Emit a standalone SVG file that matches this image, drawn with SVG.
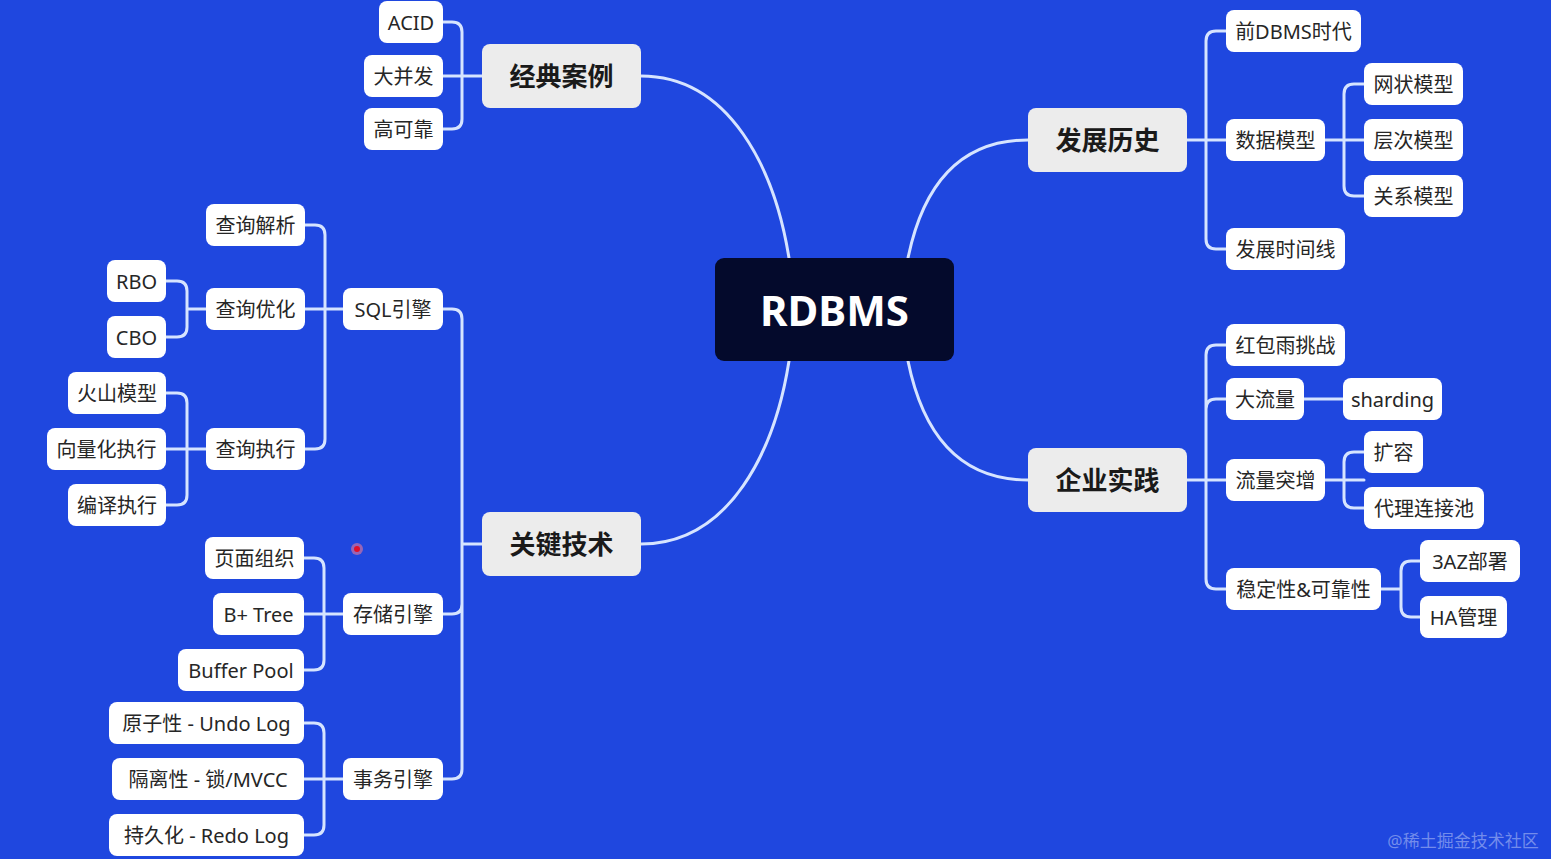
<svg xmlns="http://www.w3.org/2000/svg" width="1551" height="859" viewBox="0 0 1551 859">
<style>
.bg{fill:#1f47df}
.c{fill:none;stroke:#d6e4ff;stroke-width:3;stroke-linecap:round;stroke-linejoin:round}
.l1 rect{fill:#ececec}
.l2 rect{fill:#ffffff}
.root rect{fill:#040a2c}
text{font-family:"Noto Sans","Noto Sans CJK SC",sans-serif;text-anchor:middle;dominant-baseline:central}
.l1 text{font-size:26px;font-weight:bold;fill:#1a1a1a}
.l2 text{font-size:20px;fill:#262626}
.root text{font-size:42px;font-weight:bold;fill:#ffffff}
.wm{font-size:17px;fill:#8fa3f0;opacity:.75}
</style>
<rect class="bg" x="0" y="0" width="1551" height="859"/>
<g id="connectors">
<path class="c" d="M641,76 C730,76 775,170 789,258"/>
<path class="c" d="M1028,140 C950,140 920,200 908,258"/>
<path class="c" d="M641,544 C730,544 775,450 789,361"/>
<path class="c" d="M1028,480 C950,480 920,420 908,361"/>
<path class="c" d="M443,22 H452 Q462,22 462,32 V119 Q462,129 452,129 H443 M482,76 H443"/>
<path class="c" d="M443,309 H452 Q462,309 462,319 V769 Q462,779 452,779 H443 M482,544 H462 M462,604 Q462,614 452,614 H443"/>
<path class="c" d="M305,225 H315 Q325,225 325,235 V439 Q325,449 315,449 H305 M343,309 H305"/>
<path class="c" d="M166,281 H177 Q187,281 187,291 V327 Q187,337 177,337 H166 M206,309 H187"/>
<path class="c" d="M166,393 H177 Q187,393 187,403 V495 Q187,505 177,505 H166 M206,449 H166"/>
<path class="c" d="M304,558 H314 Q324,558 324,568 V660 Q324,670 314,670 H304 M343,614 H304"/>
<path class="c" d="M304,723 H314 Q324,723 324,733 V825 Q324,835 314,835 H304 M343,779 H304"/>
<path class="c" d="M1226,31 H1216 Q1206,31 1206,41 V239 Q1206,249 1216,249 H1226 M1187,140 H1226"/>
<path class="c" d="M1364,84 H1354 Q1344,84 1344,94 V186 Q1344,196 1354,196 H1364 M1325,140 H1364"/>
<path class="c" d="M1226,345 H1216 Q1206,345 1206,355 V579 Q1206,589 1216,589 H1226 M1187,480 H1226 M1206,409 Q1206,399 1216,399 H1226"/>
<path class="c" d="M1304,399 H1343"/>
<path class="c" d="M1364,452 H1354 Q1344,452 1344,462 V498 Q1344,508 1354,508 H1364 M1325,480 H1364"/>
<path class="c" d="M1420,561 H1411 Q1401,561 1401,571 V607 Q1401,617 1411,617 H1420 M1381,589 H1401"/>
</g>
<g id="n-root" class="root"><rect x="715" y="258" width="239" height="103" rx="9"/><text x="834.5" y="309.5">RDBMS</text></g>
<g id="n-jdal" class="l1"><rect x="482" y="44" width="159" height="64" rx="8"/><text x="561.5" y="76">经典案例</text></g>
<g id="n-gjjs" class="l1"><rect x="482" y="512" width="159" height="64" rx="8"/><text x="561.5" y="544">关键技术</text></g>
<g id="n-fzls" class="l1"><rect x="1028" y="108" width="159" height="64" rx="8"/><text x="1107.5" y="140">发展历史</text></g>
<g id="n-qysj" class="l1"><rect x="1028" y="448" width="159" height="64" rx="8"/><text x="1107.5" y="480">企业实践</text></g>
<g id="n-acid" class="l2"><rect x="379" y="1" width="64" height="42" rx="8"/><text x="411" y="22">ACID</text></g>
<g id="n-dbf" class="l2"><rect x="364" y="55" width="79" height="42" rx="8"/><text x="403.5" y="76">大并发</text></g>
<g id="n-gkk" class="l2"><rect x="364" y="108" width="79" height="42" rx="8"/><text x="403.5" y="129">高可靠</text></g>
<g id="n-sql" class="l2"><rect x="343" y="288" width="100" height="42" rx="8"/><text x="393" y="309">SQL引擎</text></g>
<g id="n-ccyq" class="l2"><rect x="343" y="593" width="100" height="42" rx="8"/><text x="393" y="614">存储引擎</text></g>
<g id="n-swyq" class="l2"><rect x="343" y="758" width="100" height="42" rx="8"/><text x="393" y="779">事务引擎</text></g>
<g id="n-cxjx" class="l2"><rect x="206" y="204" width="99" height="42" rx="8"/><text x="255.5" y="225">查询解析</text></g>
<g id="n-cxyh" class="l2"><rect x="206" y="288" width="99" height="42" rx="8"/><text x="255.5" y="309">查询优化</text></g>
<g id="n-cxzx" class="l2"><rect x="206" y="428" width="99" height="42" rx="8"/><text x="255.5" y="449">查询执行</text></g>
<g id="n-rbo" class="l2"><rect x="107" y="260" width="59" height="42" rx="8"/><text x="136.5" y="281">RBO</text></g>
<g id="n-cbo" class="l2"><rect x="107" y="316" width="59" height="42" rx="8"/><text x="136.5" y="337">CBO</text></g>
<g id="n-hsmx" class="l2"><rect x="68" y="372" width="98" height="42" rx="8"/><text x="117" y="393">火山模型</text></g>
<g id="n-xlh" class="l2"><rect x="47" y="428" width="119" height="42" rx="8"/><text x="106.5" y="449">向量化执行</text></g>
<g id="n-byzx" class="l2"><rect x="68" y="484" width="98" height="42" rx="8"/><text x="117" y="505">编译执行</text></g>
<g id="n-ymzz" class="l2"><rect x="205" y="537" width="99" height="42" rx="8"/><text x="254.5" y="558">页面组织</text></g>
<g id="n-bptree" class="l2"><rect x="213" y="593" width="91" height="42" rx="8"/><text x="258.5" y="614">B+ Tree</text></g>
<g id="n-bufpool" class="l2"><rect x="178" y="649" width="126" height="42" rx="8"/><text x="241" y="670">Buffer Pool</text></g>
<g id="n-undo" class="l2"><rect x="109" y="702" width="195" height="42" rx="8"/><text x="206.5" y="723">原子性 - Undo Log</text></g>
<g id="n-mvcc" class="l2"><rect x="112" y="758" width="192" height="42" rx="8"/><text x="208" y="779">隔离性 - 锁/MVCC</text></g>
<g id="n-redo" class="l2"><rect x="109" y="814" width="195" height="42" rx="8"/><text x="206.5" y="835">持久化 - Redo Log</text></g>
<g id="n-qdbms" class="l2"><rect x="1226" y="10" width="135" height="42" rx="8"/><text x="1293.5" y="31">前DBMS时代</text></g>
<g id="n-sjmx" class="l2"><rect x="1226" y="119" width="99" height="42" rx="8"/><text x="1275.5" y="140">数据模型</text></g>
<g id="n-fzsjx" class="l2"><rect x="1226" y="228" width="119" height="42" rx="8"/><text x="1285.5" y="249">发展时间线</text></g>
<g id="n-wzmx" class="l2"><rect x="1364" y="63" width="99" height="42" rx="8"/><text x="1413.5" y="84">网状模型</text></g>
<g id="n-ccmx" class="l2"><rect x="1364" y="119" width="99" height="42" rx="8"/><text x="1413.5" y="140">层次模型</text></g>
<g id="n-gxmx" class="l2"><rect x="1364" y="175" width="99" height="42" rx="8"/><text x="1413.5" y="196">关系模型</text></g>
<g id="n-hbytz" class="l2"><rect x="1226" y="324" width="119" height="42" rx="8"/><text x="1285.5" y="345">红包雨挑战</text></g>
<g id="n-dll" class="l2"><rect x="1226" y="378" width="78" height="42" rx="8"/><text x="1265" y="399">大流量</text></g>
<g id="n-sharding" class="l2"><rect x="1343" y="378" width="99" height="42" rx="8"/><text x="1392.5" y="399">sharding</text></g>
<g id="n-llzz" class="l2"><rect x="1226" y="459" width="99" height="42" rx="8"/><text x="1275.5" y="480">流量突增</text></g>
<g id="n-kr" class="l2"><rect x="1364" y="431" width="59" height="42" rx="8"/><text x="1393.5" y="452">扩容</text></g>
<g id="n-dlljc" class="l2"><rect x="1364" y="487" width="120" height="42" rx="8"/><text x="1424" y="508">代理连接池</text></g>
<g id="n-wdx" class="l2"><rect x="1226" y="568" width="155" height="42" rx="8"/><text x="1303.5" y="589">稳定性&amp;可靠性</text></g>
<g id="n-3az" class="l2"><rect x="1420" y="540" width="100" height="42" rx="8"/><text x="1470" y="561">3AZ部署</text></g>
<g id="n-ha" class="l2"><rect x="1420" y="596" width="87" height="42" rx="8"/><text x="1463.5" y="617">HA管理</text></g>
<circle cx="357" cy="549" r="6" fill="#e87a9a" opacity="0.6"/>
<circle cx="357" cy="549" r="3" fill="#e0102a"/>
<text class="wm" x="1463" y="840">@稀土掘金技术社区</text>
</svg>
